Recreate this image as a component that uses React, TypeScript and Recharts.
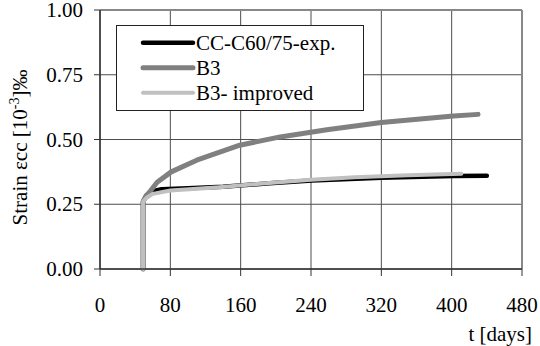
import React from 'react';
import { LineChart, Line, XAxis, YAxis, CartesianGrid, ReferenceLine, Legend } from 'recharts';

const xTicks = [0, 80, 160, 240, 320, 400, 480];
const yTicks = [0, 0.25, 0.5, 0.75, 1.0];

const seriesNames = ['CC-C60/75-exp.', 'B3', 'B3- improved'];
const seriesColors = ['#000000', '#808080', '#c0c0c0'];
const seriesWidths = [4.5, 5, 4];

const expT = [49, 49, 53, 60, 70, 100, 140, 193, 241, 320, 402, 440];
const expV = [0, 0.26, 0.285, 0.3, 0.308, 0.312, 0.318, 0.331, 0.342, 0.352, 0.359, 0.36];

const b3T = [49, 49, 52, 57, 65, 81, 110, 159, 205, 258, 320, 402, 430];
const b3V = [0, 0.26, 0.28, 0.3, 0.335, 0.375, 0.42, 0.478, 0.51, 0.538, 0.566, 0.591, 0.597];

const impT = [49, 49, 53, 60, 80, 110, 136, 185, 240, 290, 350, 411];
const impV = [0, 0.26, 0.275, 0.29, 0.303, 0.31, 0.316, 0.33, 0.345, 0.354, 0.362, 0.368];

const toData = (t: number[], v: number[]) => t.map((x, i) => ({ t: x, v: v[i] }));
const seriesData = [toData(expT, expV), toData(b3T, b3V), toData(impT, impV)];

const FONT = 'Liberation Serif';
const FS = 21;

const LegendBox = () => (
  <svg width={248} height={86} style={{ display: 'block' }}>
    <rect x={0.5} y={0.5} width={247} height={85} fill="#fff" stroke="#222" strokeWidth={1} />
    {seriesNames.map((n, i) => {
      const cy = 17.7 + i * 25;
      return (
        <g key={n}>
          <line x1={27} x2={77} y1={cy} y2={cy} stroke={seriesColors[i]} strokeWidth={seriesWidths[i]} strokeLinecap="round" />
          <text x={80} y={cy + 7} fontFamily={FONT} fontSize={FS} fill="#000">{n}</text>
        </g>
      );
    })}
  </svg>
);

const XTick = (props: any) => {
  const { x, y, payload } = props;
  return (
    <text x={x} y={y} dy={14.5} textAnchor="middle" fontFamily={FONT} fontSize={FS} fill="#000">
      {payload.value}
    </text>
  );
};

const YTick = (props: any) => {
  const { x, y, payload } = props;
  return (
    <text x={x} y={y} dy={7} textAnchor="end" fontFamily={FONT} fontSize={FS} fill="#000">
      {Number(payload.value).toFixed(2)}
    </text>
  );
};

const YLabel = (props: any) => {
  const vb = props.viewBox || { x: 0, y: 10, width: 100, height: 259 };
  const x = vb.x + 27;
  const y = vb.y + vb.height / 2 + 8;
  return (
    <text x={x} y={y} transform={`rotate(-90, ${x}, ${y})`} textAnchor="middle" fontFamily={FONT} fontSize={FS} fill="#000">
      <tspan>Strain </tspan>
      <tspan>εcc</tspan>
      <tspan>  [10</tspan>
      <tspan fontSize={14} dy={-8}>-3</tspan>
      <tspan dy={8}>]‰</tspan>
    </text>
  );
};

const XLabel = (props: any) => {
  const vb = props.viewBox || { x: 100, y: 269, width: 422, height: 77 };
  return (
    <text x={vb.x + vb.width + 10} y={vb.y + vb.height - 5} textAnchor="end" fontFamily={FONT} fontSize={FS} fill="#000">
      t [days]
    </text>
  );
};

export default function App() {
  return (
    <div style={{ position: 'absolute', left: 0, top: 0, background: '#fff', fontFamily: FONT }}>
      <LineChart width={540} height={346} margin={{ top: 10, right: 18, left: 0, bottom: 0 }}>
        <CartesianGrid stroke="#4d4d4d" strokeWidth={1} />
        <XAxis
          type="number"
          dataKey="t"
          domain={[0, 480]}
          ticks={xTicks}
          height={77}
          tickSize={7}
          tickMargin={21}
          tick={<XTick />}
          axisLine={{ stroke: '#333', strokeWidth: 1.5 }}
          tickLine={{ stroke: '#333' }}
          label={<XLabel />}
          allowDuplicatedCategory={false}
        />
        <YAxis
          type="number"
          dataKey="v"
          domain={[0, 1]}
          ticks={yTicks}
          width={100}
          tickSize={6}
          tickMargin={11}
          tick={<YTick />}
          axisLine={{ stroke: '#333', strokeWidth: 1.5 }}
          tickLine={{ stroke: '#333' }}
          label={<YLabel />}
        />
        <ReferenceLine y={1} stroke="#888" strokeWidth={2} />
        <ReferenceLine x={480} stroke="#888" strokeWidth={2} />
        {seriesData.map((d, i) => (
          <Line
            key={seriesNames[i]}
            data={d}
            dataKey="v"
            name={seriesNames[i]}
            type="linear"
            stroke={seriesColors[i]}
            strokeWidth={seriesWidths[i]}
            strokeLinejoin="round"
            strokeLinecap="round"
            dot={false}
            activeDot={false}
            isAnimationActive={false}
          />
        ))}
        <Legend
          layout="horizontal"
          verticalAlign="middle"
          align="center"
          wrapperStyle={{ position: 'absolute', left: 116, top: 25, width: 248, height: 86 }}
          content={() => <LegendBox />}
        />
      </LineChart>
    </div>
  );
}
